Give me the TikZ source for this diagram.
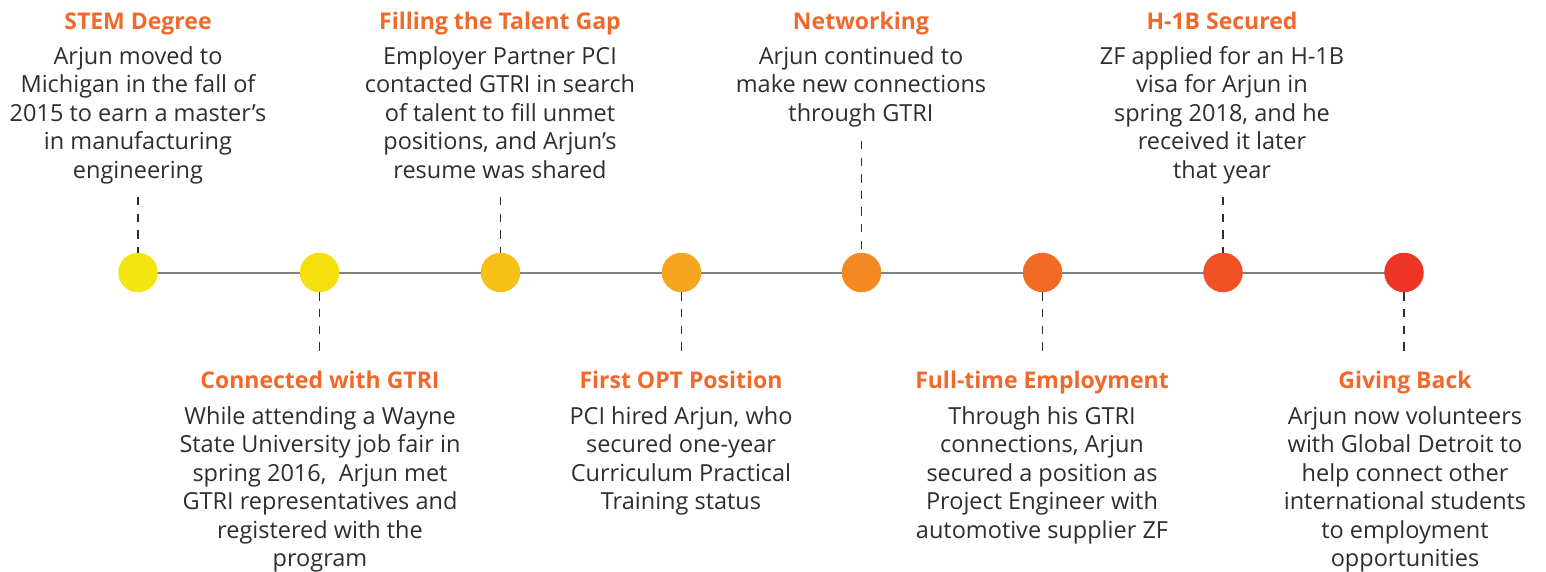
\documentclass[tikz,border=0pt]{standalone}
\usepackage{fontspec}
\setmainfont{Open Sans}
\definecolor{ttl}{HTML}{F0692B}
\definecolor{bodyc}{HTML}{2E2E2E}
\definecolor{linec}{HTML}{808080}
\definecolor{k1}{HTML}{F2E511}
\definecolor{k2}{HTML}{F5DF0C}
\definecolor{k3}{HTML}{F8C016}
\definecolor{k4}{HTML}{F6A51E}
\definecolor{k5}{HTML}{F58A22}
\definecolor{k6}{HTML}{F26A24}
\definecolor{k7}{HTML}{F05024}
\definecolor{k8}{HTML}{EE3424}
\tikzset{
  dot/.style={circle,minimum size=39.5pt,inner sep=0pt},
  ttlnode/.style={anchor=base,inner sep=0pt,text=ttl,font=\fontsize{23}{28.5}\selectfont\bfseries},
  bodynode/.style={anchor=north,inner sep=0pt,align=center,text=bodyc,font=\fontsize{23.5}{28.5}\selectfont},
  guide/.style={draw=bodyc,line width=1.4pt,dash pattern=on 8.3pt off 8.3pt},
  axis/.style={draw=linec,line width=2pt}
}
\newcommand{\fl}{\rule{0pt}{18pt}}
\begin{document}
\begin{tikzpicture}[x=1pt,y=-1pt]
\useasboundingbox (0,0) rectangle (1546,571);
% axis
\coordinate (L) at (138,272.5);
\coordinate (R) at (1404,272.5);
\draw[axis] (L) -- (R);
% dots
\node[dot,fill=k1] (c1) at (138,272.5) {};
\node[dot,fill=k2] (c2) at (319.5,272.5) {};
\node[dot,fill=k3] (c3) at (500.5,272.5) {};
\node[dot,fill=k4] (c4) at (681.5,272.5) {};
\node[dot,fill=k5] (c5) at (861.5,272.5) {};
\node[dot,fill=k6] (c6) at (1042.5,272.5) {};
\node[dot,fill=k7] (c7) at (1223,272.5) {};
\node[dot,fill=k8] (c8) at (1404,272.5) {};
% guide ends
\coordinate (g1) at (138,197);
\coordinate (g2) at (319.5,352);
\coordinate (g3) at (500.5,197);
\coordinate (g4) at (681.5,352);
\coordinate (g5) at (861.5,141);
\coordinate (g6) at (1042.5,352);
\coordinate (g7) at (1223,197);
\coordinate (g8) at (1404,352);
\draw[guide] (g1) -- (c1.north);
\draw[guide] (g3) -- (c3.north);
\draw[guide] (g5) -- (c5.north);
\draw[guide] (g7) -- (c7.north);
\draw[guide] (c2.south) -- (g2);
\draw[guide] (c4.south) -- (g4);
\draw[guide] (c6.south) -- (g6);
\draw[guide] (c8.south) -- (g8);
% top texts
\node[ttlnode] (t1) at (138,29) {STEM Degree};
\node[bodynode] (b1) at (138,46) {\fl Arjun moved to\\Michigan in the fall of\\2015 to earn a master’s\\in manufacturing\\engineering};
\node[ttlnode] (t3) at (500,29) {Filling the Talent Gap};
\node[bodynode] (b3) at (500,46) {\fl Employer Partner PCI\\contacted GTRI in search\\of talent to fill unmet\\positions, and Arjun’s\\resume was shared};
\node[ttlnode] (t5) at (861,29) {Networking};
\node[bodynode] (b5) at (861,46) {\fl Arjun continued to\\make new connections\\through GTRI};
\node[ttlnode] (t7) at (1222,29) {H-1B Secured};
\node[bodynode] (b7) at (1222,46) {\fl ZF applied for an H-1B\\visa for Arjun in\\spring 2018, and he\\received it later\\that year};
% bottom texts
\node[ttlnode] (t2) at (320,388) {Connected with GTRI};
\node[bodynode] (b2) at (320,406) {\fl While attending a Wayne\\State University job fair in\\spring 2016,\ \ Arjun met\\GTRI representatives and\\registered with the\\program};
\node[ttlnode] (t4) at (681,388) {First OPT Position};
\node[bodynode] (b4) at (681,406) {\fl PCI hired Arjun, who\\secured one-year\\Curriculum Practical\\Training status};
\node[ttlnode] (t6) at (1042,388) {Full-time Employment};
\node[bodynode] (b6) at (1042,406) {\fl Through his GTRI\\connections, Arjun\\secured a position as\\Project Engineer with\\automotive supplier ZF};
\node[ttlnode] (t8) at (1405,388) {Giving Back};
\node[bodynode] (b8) at (1405,406) {\fl Arjun now volunteers\\with Global Detroit to\\help connect other\\international students\\to employment\\opportunities};
\end{tikzpicture}
\end{document}
